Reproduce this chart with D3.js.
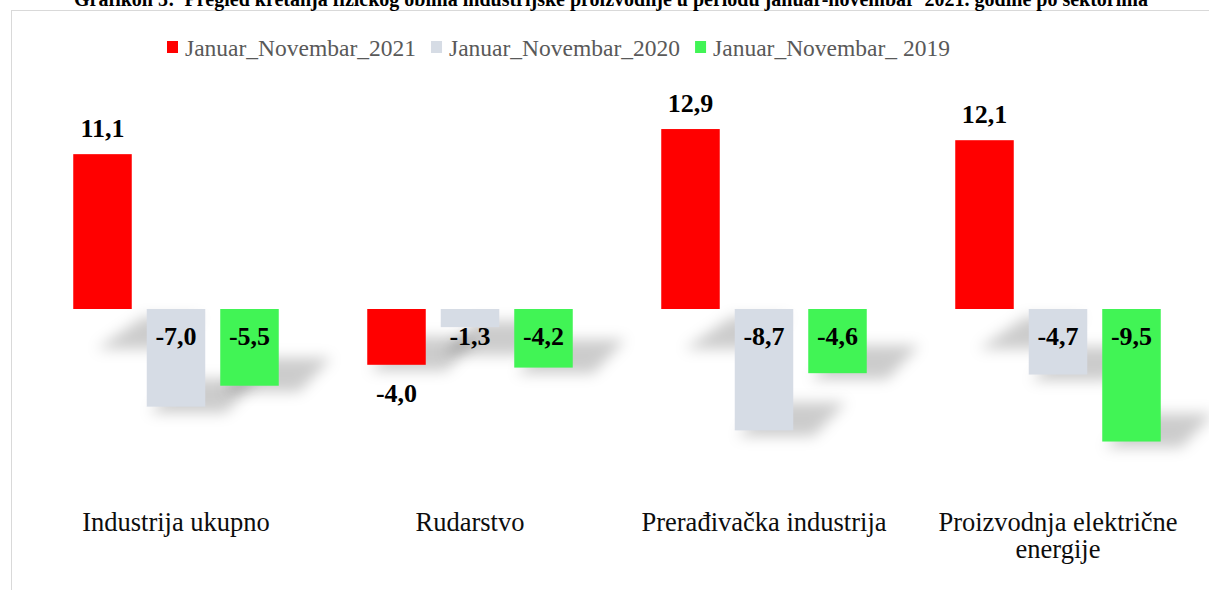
<!DOCTYPE html>
<html lang="sr">
<head>
    <meta charset="UTF-8">
    <title>Grafikon 5</title>
    <script src="https://d3js.org/d3.v7.min.js"></script>
    <style>
        body {
            margin: 0;
            background: #ffffff;
            overflow: hidden;
        }

        svg {
            display: block;
        }

        svg text {
            font-family: "Liberation Serif", "Times New Roman", Times, "DejaVu Serif", serif;
        }

        .title {
            font-size: 20px;
            font-weight: bold;
            fill: #000000;
        }

        .legend-label {
            font-size: 23.5px;
            fill: #595959;
        }

        .cat-label {
            font-size: 26.5px;
            fill: #0d0d0d;
        }

        .value-label {
            font-size: 26px;
            font-weight: bold;
            fill: #000000;
        }

        .plot-border {
            fill: none;
            stroke: #d9d9d9;
            stroke-width: 1px;
        }
    </style>
</head>
<body>
<div id="chart"></div>

<script>
    var categories = ["Industrija ukupno", "Rudarstvo", "Prerađivačka industrija", "Proizvodnja električne energije"];
    var seriesNames = ["Januar_Novembar_2021", "Januar_Novembar_2020", "Januar_Novembar_ 2019"];
    var values2021 = [11.1, -4.0, 12.9, 12.1];
    var values2020 = [-7.0, -1.3, -8.7, -4.7];
    var values2019 = [-5.5, -4.2, -4.6, -9.5];
    var titleText = "Grafikon 5:  Pregled kretanja fizičkog obima industrijske proizvodnje u periodu januar-novembar  2021. godine po sektorima";

    var seriesColors = ["#ff0000", "#d6dce5", "#41f455"];
    // red labels sit outside the bar end, the others just under the zero line
    var labelModes = ["outsideEnd", "insideBase", "insideBase"];

    function init() {
        var w = 1209;
        var h = 590;

        var seriesValues = [values2021, values2020, values2019];
        var dataset = categories.map(function(c, i) {
            return {
                category: c,
                bars: seriesNames.map(function(s, j) {
                    return { series: s, index: j, value: seriesValues[j][i] };
                })
            };
        });

        drawChart(dataset, w, h);
    }

    function drawChart(dataset, w, h) {
        var svg = d3.select("#chart")
            .append("svg")
            .attr("width", w)
            .attr("height", h);

        var defs = svg.append("defs");
        defs.append("filter")
            .attr("id", "softShadow")
            .attr("x", "-50%").attr("y", "-50%")
            .attr("width", "200%").attr("height", "200%")
            .append("feGaussianBlur")
            .attr("stdDeviation", 7);

        // plot area frame (only top and left edges fall inside the picture)
        svg.append("rect")
            .attr("class", "plot-border")
            .attr("x", 11.5)
            .attr("y", 10.5)
            .attr("width", w + 50)
            .attr("height", h + 50);

        svg.append("text")
            .attr("class", "title")
            .attr("x", 611)
            .attr("y", 6)
            .attr("text-anchor", "middle")
            .style("white-space", "pre")
            .text(titleText);

        var x0 = d3.scaleBand()
            .domain(categories)
            .range([29, 1205])
            .paddingInner(0.25)
            .paddingOuter(0.125);

        var x1 = d3.scaleBand()
            .domain(seriesNames)
            .range([0, x0.bandwidth()])
            .paddingInner(0.204)
            .paddingOuter(0.102);

        var y = d3.scaleLinear()
            .domain([-10, 14])
            .range([448.5, 113.7]);

        var locale = d3.formatLocale({
            decimal: ",",
            thousands: ".",
            grouping: [3],
            currency: ["", ""],
            minus: "-"
        });
        var fmt = locale.format(".1f");

        var groups = svg.append("g").selectAll("g")
            .data(dataset)
            .join("g")
            .attr("transform", function(d) { return "translate(" + x0(d.category) + ",0)"; });

        // soft perspective shadows behind the bars
        groups.selectAll("path.shadow")
            .data(function(d) { return d.bars; })
            .join("path")
            .attr("class", "shadow")
            .attr("fill", "#000000")
            .attr("fill-opacity", 0.2)
            .attr("filter", "url(#softShadow)")
            .attr("d", function(d) {
                var bx = x1(d.series);
                var bw = x1.bandwidth();
                var top, bottom, shiftTop, shiftBottom, sw;
                if (d.value >= 0) {
                    top = y(0) + 8;
                    bottom = y(0) + 40;
                    shiftTop = bw * 1.2;
                    shiftBottom = bw * 0.4;
                    sw = bw;
                } else {
                    top = Math.max(y(d.value) - 28, y(0) + 12);
                    bottom = top + 34;
                    shiftTop = bw * 0.6;
                    shiftBottom = bw * 0.05;
                    sw = bw * 1.3;
                }
                return "M" + (bx + shiftTop) + "," + top +
                    "L" + (bx + sw + shiftTop) + "," + top +
                    "L" + (bx + sw + shiftBottom) + "," + bottom +
                    "L" + (bx + shiftBottom) + "," + bottom + "Z";
            });

        groups.selectAll("rect.bar")
            .data(function(d) { return d.bars; })
            .join("rect")
            .attr("class", "bar")
            .attr("x", function(d) { return x1(d.series); })
            .attr("y", function(d) { return y(Math.max(0, d.value)); })
            .attr("width", x1.bandwidth())
            .attr("height", function(d) { return Math.abs(y(d.value) - y(0)); })
            .attr("fill", function(d) { return seriesColors[d.index]; });

        groups.selectAll("text.value-label")
            .data(function(d) { return d.bars; })
            .join("text")
            .attr("class", "value-label")
            .attr("text-anchor", "middle")
            .attr("x", function(d) { return x1(d.series) + x1.bandwidth() / 2; })
            .attr("y", function(d) {
                if (d.value >= 0) return y(d.value) - 17;
                if (labelModes[d.index] === "outsideEnd") return y(d.value) + 37;
                return y(0) + 36;
            })
            .text(function(d) { return fmt(d.value); });

        // category labels, wrapped to the group width
        var catLabels = svg.append("g").selectAll("text")
            .data(categories)
            .join("text")
            .attr("class", "cat-label")
            .attr("text-anchor", "middle")
            .attr("x", function(d) { return x0(d) + x0.bandwidth() / 2; })
            .attr("y", 531);

        catLabels.each(function(d) {
            wrap(d3.select(this), d, x0.step() - 30, 27);
        });

        // legend
        var legend = svg.append("g").attr("transform", "translate(167,0)");
        var cursor = 0;
        seriesNames.forEach(function(s, i) {
            var item = legend.append("g").attr("transform", "translate(" + cursor + ",0)");
            item.append("rect")
                .attr("x", 0)
                .attr("y", 41)
                .attr("width", 11)
                .attr("height", 12)
                .attr("fill", seriesColors[i]);
            var t = item.append("text")
                .attr("class", "legend-label")
                .attr("x", 18)
                .attr("y", 56)
                .style("white-space", "pre")
                .text(s);
            cursor += 18 + t.node().getComputedTextLength() + 15;
        });
    }

    function wrap(textSel, str, maxWidth, lineHeight) {
        var words = str.split(" ");
        var xPos = textSel.attr("x");
        var line = [];
        var tspan = textSel.text(null).append("tspan").attr("x", xPos).attr("dy", 0);
        words.forEach(function(word) {
            line.push(word);
            tspan.text(line.join(" "));
            if (tspan.node().getComputedTextLength() > maxWidth && line.length > 1) {
                line.pop();
                tspan.text(line.join(" "));
                line = [word];
                tspan = textSel.append("tspan").attr("x", xPos).attr("dy", lineHeight).text(word);
            }
        });
    }

    init();
</script>
</body>
</html>
